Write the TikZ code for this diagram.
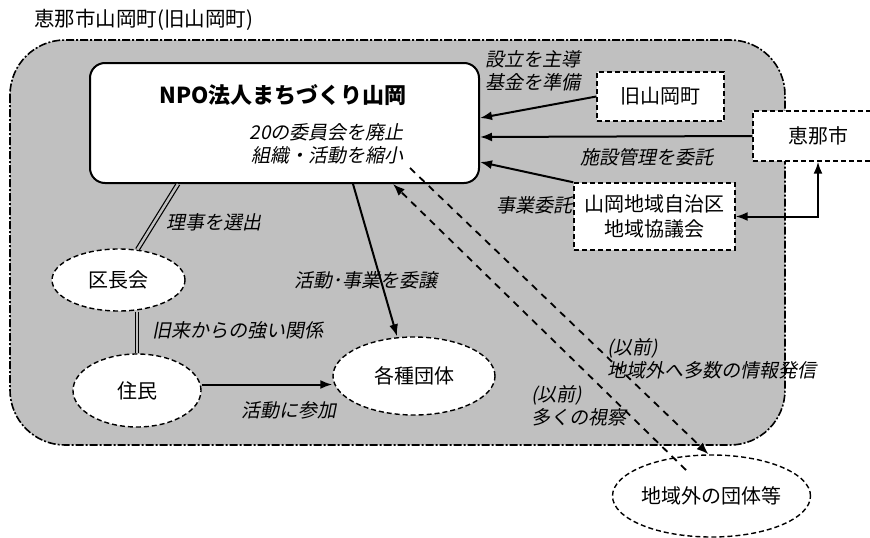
\documentclass[tikz,border=0pt]{standalone}
\usepackage{fontspec}
\setmainfont{Noto Sans CJK JP}
\newfontfamily\itjp[FakeSlant=0.2]{Noto Sans CJK JP}
\usetikzlibrary{shapes.geometric,arrows.meta}
\definecolor{area}{RGB}{192,192,192}
\tikzstyle{lines}=[%
	x = 1pt, y = -1pt,
	every node/.style = {
		font = \fontsize{20}{25}\selectfont
	}
]
\tikzstyle{box}=[draw, dash pattern=on 5pt off 3pt, fill=white, inner sep=0pt, line width=1.4pt, align=center]
\tikzstyle{oval}=[ellipse, draw, dash pattern=on 5pt off 3pt, fill=white, inner sep=0pt, line width=1.4pt]
\tikzstyle{note}=[font=\itjp\fontsize{19}{23}\selectfont, align=left, inner sep=0pt]
\tikzstyle{arr}=[-{Latex[length=12pt,width=9pt]}, line width=2pt]
\tikzstyle{arrs}=[{Latex[length=12pt,width=9pt]}-{Latex[length=12pt,width=9pt]}, line width=2pt]
\tikzstyle{darr}=[-{Latex[length=12pt,width=9pt]}, line width=1.8pt, dash pattern=on 7pt off 6pt]
\tikzstyle{link}=[double=area, double distance=2.5pt, line width=1.2pt]

\begin{document}
\begin{tikzpicture}[lines]
	\useasboundingbox (0,0) rectangle (870,538);

	% Background, frame
	\node[anchor=west, inner sep=0pt, font=\fontsize{20.5}{25}\selectfont] (title) at (34,20) {恵那市山岡町(旧山岡町)};
	\draw[fill=area, line width=1.6pt, rounded corners=55pt,
		dash pattern=on 8pt off 2pt on 2pt off 2pt] (10,40) rectangle (785,445);

	% Nodes
	\node[draw, fill=white, line width=2pt, rounded corners=15pt,
		minimum width=389pt, minimum height=120pt] (npo) at (284.5,123) {};
	\node[font=\bfseries\fontsize{22}{26}\selectfont] (npotitle) at (283,95) {NPO法人まちづくり山岡};
	\node[note, anchor=east, align=right] (npotext) at (404,144) {20の委員会を廃止\\組織・活動を縮小};
	\node[box, minimum width=127pt, minimum height=49pt] (kyu) at (660.5,96.5) {旧山岡町};
	\node[box, minimum width=130pt, minimum height=50pt] (ena) at (818,136) {恵那市};
	\node[box, minimum width=161pt, minimum height=67pt] (jichi) at (654.5,216.5) {山岡地域自治区\\地域協議会};
	\node[oval, minimum width=133pt, minimum height=62pt] (kucho) at (118.5,280) {区長会};
	\node[oval, minimum width=128pt, minimum height=73pt] (jumin) at (137,390.5) {住民};
	\node[oval, minimum width=162pt, minimum height=78pt] (dantai) at (414,376) {各種団体};
	\node[oval, minimum width=167pt, minimum height=82pt] (soto) at (711.5,496) {地域外の団体等};

	% Labels
	\node[note, anchor=west] (l1) at (485,71) {設立を主導\\基金を準備};
	\node[note] (l2) at (647,157) {施設管理を委託};
	\node[note, anchor=east] (l3) at (573,205) {事業委託};
	\node[note] (l4) at (214,222) {理事を選出};
	\node[note, anchor=west] (l5) at (152,330) {旧来からの強い関係};
	\node[note] (l6) at (366,280) {活動･事業を委譲};
	\node[note] (l7) at (289,410) {活動に参加};
	\node[note, anchor=west] (l8) at (531,406) {(以前)\\多くの視察};
	\node[note, anchor=west] (l9) at (607,359) {(以前)\\地域外へ多数の情報発信};

	% Lines
	\foreach \src/\dy in {kyu.west/5, ena.west/-14, jichi.north west/-39} {
		\draw[arr] (\src) -- ([yshift=\dy pt]npo.east);
	}
	\draw[arrs] (jichi.east) -| (ena.south);
	\draw[link] ([xshift=-106.5pt]npo.south) -- (kucho);
	\draw[link] (kucho.south -| jumin.north) -- (jumin.north);
	\draw[arr] ([yshift=6pt]jumin.east) -- ([yshift=6pt]jumin.east -| dantai.west);
	\draw[arr] ([xshift=68.5pt]npo.south) -- ([xshift=-17pt]dantai.north);

	\coordinate (visit) at (686,470);
	\coordinate (info) at (410,168);
	\draw[darr] (visit) -- ([xshift=108.5pt]npo.south);
	\draw[darr] (info) -- ([xshift=-3pt]soto.north);

\end{tikzpicture}
\end{document}
